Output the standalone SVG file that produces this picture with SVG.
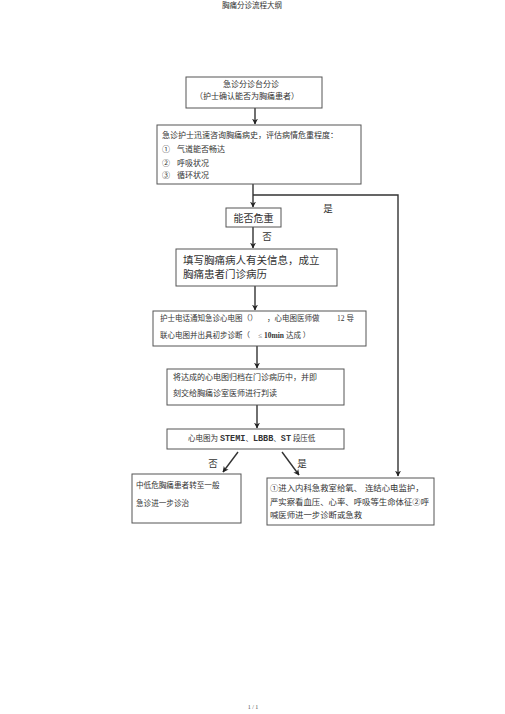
<svg xmlns="http://www.w3.org/2000/svg" width="505" height="714" viewBox="0 0 505 714">
<style>
.bx{fill:#fff;stroke:#555;stroke-width:1}
.t{font-family:"Liberation Serif","Noto Sans CJK SC",serif;fill:#333;font-size:8px}
.tm{font-size:10.5px}
.c{stroke:#333;stroke-width:1.4;fill:none}
.mono{font-family:"Liberation Mono",monospace;font-weight:bold;font-size:8.5px}
</style>
<defs>
<marker id="ah" viewBox="0 0 10 10" refX="9" refY="5" markerWidth="6" markerHeight="6" orient="auto" markerUnits="userSpaceOnUse">
<path d="M0,0 L10,5 L0,10 L3,5 Z" fill="#222"/>
</marker>
</defs>
<rect width="505" height="714" fill="#fff"/>
<text class="t" x="252" y="8" text-anchor="middle" style="font-size:7.5px">胸痛分诊流程大纲</text>
<text class="t" x="253" y="709" text-anchor="middle" style="font-size:6px;fill:#555">1 / 1</text>

<g id="connectors">
<path class="c" d="M255,108 V124" marker-end="url(#ah)"/>
<path class="c" d="M253,184 V207" marker-end="url(#ah)"/>
<path class="c" d="M253,195 H398 V476" marker-end="url(#ah)"/>
<path class="c" d="M253,227 V248" marker-end="url(#ah)"/>
<path class="c" d="M255,286 V310" marker-end="url(#ah)"/>
<path class="c" d="M257,346 V368" marker-end="url(#ah)"/>
<path class="c" d="M257,405 V428" marker-end="url(#ah)"/>
<path class="c" d="M238,452 L223,472" marker-end="url(#ah)"/>
<path class="c" d="M282,452 L299,475" marker-end="url(#ah)"/>
<text class="t" x="328" y="212" text-anchor="middle" style="font-size:9.5px">是</text>
<text class="t" x="267" y="240" text-anchor="middle" style="font-size:9.5px">否</text>
<text class="t" x="213" y="467" text-anchor="middle" style="font-size:9.5px">否</text>
<text class="t" x="302" y="467" text-anchor="middle" style="font-size:9.5px">是</text>
</g>

<g id="n1">
<rect class="bx" x="186" y="77" width="136" height="31"/>
<text class="t" x="251" y="87" text-anchor="middle">急诊分诊台分诊</text>
<text class="t" x="247" y="99" text-anchor="middle">（护士确认能否为胸痛患者）</text>
</g>

<g id="n2">
<rect class="bx" x="157" y="125" width="204" height="59"/>
<text class="t" x="162" y="138">急诊护士迅速咨询胸痛病史，评估病情危重程度：</text>
<text class="t" x="162" y="152">①</text><text class="t" x="177" y="152">气道能否畅达</text>
<text class="t" x="162" y="166">②</text><text class="t" x="177" y="166">呼吸状况</text>
<text class="t" x="162" y="178">③</text><text class="t" x="177" y="178">循环状况</text>
</g>

<g id="n3">
<rect class="bx" x="226" y="208" width="55" height="19"/>
<text class="t" x="253.5" y="221.5" text-anchor="middle" style="font-size:10px">能否危重</text>
</g>

<g id="n4">
<rect class="bx" x="176" y="249" width="161" height="37"/>
<text class="t tm" x="183" y="264">填写胸痛病人有关信息，成立</text>
<text class="t tm" x="183" y="278">胸痛患者门诊病历</text>
</g>

<g id="n5">
<rect class="bx" x="153" y="311" width="213" height="35"/>
<text class="t" x="160" y="321" style="font-size:7.5px">护士电话通知急诊心电图（）<tspan x="267">，心电图医师做</tspan><tspan x="337">12 导</tspan></text>
<text class="t" x="160" y="338" style="font-size:7.5px">联心电图并出具初步诊断（<tspan x="258">≤ </tspan><tspan font-weight="bold">10min</tspan> 达成 ）</text>
</g>

<g id="n6">
<rect class="bx" x="167" y="369" width="177" height="36"/>
<text class="t" x="173" y="380">将达成的心电图归档在门诊病历中，并即</text>
<text class="t" x="173" y="396">刻交给胸痛诊室医师进行判读</text>
</g>

<g id="n7">
<rect class="bx" x="167" y="429" width="177" height="20"/>
<text class="t" x="188" y="441" style="font-size:7.5px">心电图为 <tspan class="mono">STEMI</tspan>、<tspan class="mono">LBBB</tspan>、<tspan class="mono">ST</tspan> 段压低</text>
</g>

<g id="n8">
<rect class="bx" x="132" y="474" width="109" height="49"/>
<text class="t" x="136" y="488" style="font-size:7.6px">中低危胸痛患者转至一般</text>
<text class="t" x="136" y="506" style="font-size:7.6px">急诊进一步诊治</text>
</g>

<g id="n9">
<rect class="bx" x="267" y="478" width="167" height="47"/>
<text class="t" x="270" y="491" style="font-size:8.4px">①进入内科急救室给氧、<tspan x="365">连结心电监护，</tspan></text>
<text class="t" x="270" y="505" style="font-size:8.4px">严实察看血压、心率、呼吸等生命体征②呼</text>
<text class="t" x="270" y="518" style="font-size:8.4px">喊医师进一步诊断或急救</text>
</g>
</svg>
